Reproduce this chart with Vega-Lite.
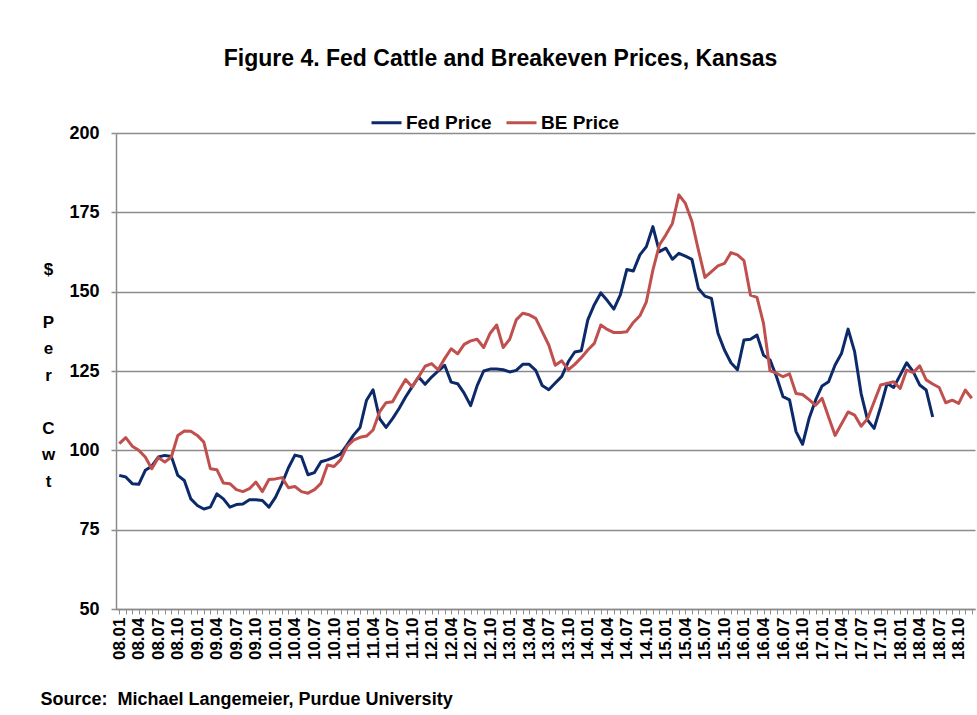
{
  "$schema": "https://vega.github.io/schema/vega-lite/v6.json",
  "width": 859,
  "height": 476,
  "autosize": "none",
  "padding": {"left": 116, "top": 133, "right": 2, "bottom": 106},
  "background": "white",
  "config": {"font": "Liberation Sans", "view": {"stroke": null}},
  "title": {
    "text": "Figure 4. Fed Cattle and Breakeven Prices, Kansas",
    "fontSize": 23,
    "fontWeight": "bold",
    "color": "#000000",
    "anchor": "middle",
    "dx": -45,
    "offset": 17,
    "baseline": "alphabetic"
  },
  "data": {
    "values": [
      {"m":"08.01","fed":92.1,"be":102.1},{"m":"08.02","fed":91.6,"be":104},{"m":"08.03","fed":89.5,"be":101.3},{"m":"08.04","fed":89.3,"be":100},
      {"m":"08.05","fed":93.7,"be":97.9},{"m":"08.06","fed":95,"be":94.2},{"m":"08.07","fed":97.9,"be":97.7},{"m":"08.08","fed":98.4,"be":96.3},
      {"m":"08.09","fed":98.1,"be":97.9},{"m":"08.10","fed":92.1,"be":104.7},{"m":"08.11","fed":90.5,"be":106.1},{"m":"08.12","fed":84.7,"be":106},
      {"m":"09.01","fed":82.6,"be":104.7},{"m":"09.02","fed":81.5,"be":102.6},{"m":"09.03","fed":82.1,"be":94.2},{"m":"09.04","fed":86.3,"be":93.9},
      {"m":"09.05","fed":84.7,"be":89.7},{"m":"09.06","fed":82.1,"be":89.5},{"m":"09.07","fed":82.9,"be":87.6},{"m":"09.08","fed":83.1,"be":87},
      {"m":"09.09","fed":84.4,"be":87.9},{"m":"09.10","fed":84.4,"be":90},{"m":"09.11","fed":84.2,"be":87},{"m":"09.12","fed":82.1,"be":90.8},
      {"m":"10.01","fed":85.2,"be":91},{"m":"10.02","fed":89.5,"be":91.4},{"m":"10.03","fed":94.5,"be":88.2},{"m":"10.04","fed":98.5,"be":88.6},
      {"m":"10.05","fed":98,"be":87},{"m":"10.06","fed":92.3,"be":86.5},{"m":"10.07","fed":93,"be":87.6},{"m":"10.08","fed":96.4,"be":89.6},
      {"m":"10.09","fed":97,"be":95.4},{"m":"10.10","fed":97.8,"be":94.9},{"m":"10.11","fed":98.8,"be":97},{"m":"10.12","fed":101.7,"be":101.2},
      {"m":"11.01","fed":104.8,"be":103.2},{"m":"11.02","fed":107.2,"be":104.1},{"m":"11.03","fed":115.8,"be":104.5},{"m":"11.04","fed":119.1,"be":106.4},
      {"m":"11.05","fed":110,"be":112.1},{"m":"11.06","fed":107.2,"be":115},{"m":"11.07","fed":110,"be":115.3},{"m":"11.08","fed":113.2,"be":118.9},
      {"m":"11.09","fed":116.8,"be":122.3},{"m":"11.10","fed":120,"be":120},{"m":"11.11","fed":123.1,"be":123.1},{"m":"11.12","fed":120.8,"be":126.5},
      {"m":"12.01","fed":123.1,"be":127.3},{"m":"12.02","fed":125,"be":125.4},{"m":"12.03","fed":126.8,"be":128.9},{"m":"12.04","fed":121.5,"be":132},
      {"m":"12.05","fed":121,"be":130.4},{"m":"12.06","fed":118,"be":133.4},{"m":"12.07","fed":114.1,"be":134.5},{"m":"12.08","fed":120.4,"be":135},
      {"m":"12.09","fed":125,"be":132.4},{"m":"12.10","fed":125.6,"be":136.9},{"m":"12.11","fed":125.6,"be":139.5},{"m":"12.12","fed":125.4,"be":132.4},
      {"m":"13.01","fed":124.7,"be":135},{"m":"13.02","fed":125.2,"be":141.1},{"m":"13.03","fed":127.1,"be":143.2},{"m":"13.04","fed":127.1,"be":142.7},
      {"m":"13.05","fed":125.2,"be":141.6},{"m":"13.06","fed":120.4,"be":137.4},{"m":"13.07","fed":119.1,"be":133.2},{"m":"13.08","fed":121.2,"be":126.8},
      {"m":"13.09","fed":123.3,"be":128.2},{"m":"13.10","fed":127.9,"be":125.4},{"m":"13.11","fed":131,"be":127.1},{"m":"13.12","fed":131.4,"be":129.2},
      {"m":"14.01","fed":141.1,"be":131.6},{"m":"14.02","fed":145.9,"be":133.7},{"m":"14.03","fed":149.6,"be":139.5},{"m":"14.04","fed":147.2,"be":138.1},
      {"m":"14.05","fed":144.5,"be":137.1},{"m":"14.06","fed":149,"be":137.1},{"m":"14.07","fed":157,"be":137.4},{"m":"14.08","fed":156.5,"be":140.3},
      {"m":"14.09","fed":161.6,"be":142.4},{"m":"14.10","fed":164.2,"be":146.8},{"m":"14.11","fed":170.5,"be":156.8},{"m":"14.12","fed":162.6,"be":164.7},
      {"m":"15.01","fed":163.7,"be":167.9},{"m":"15.02","fed":160.2,"be":171.5},{"m":"15.03","fed":162.1,"be":180.5},{"m":"15.04","fed":161.2,"be":177.8},
      {"m":"15.05","fed":160.2,"be":172.1},{"m":"15.06","fed":151,"be":163.1},{"m":"15.07","fed":148.6,"be":154.5},{"m":"15.08","fed":147.9,"be":156.3},
      {"m":"15.09","fed":136.9,"be":158.1},{"m":"15.10","fed":131.6,"be":158.9},{"m":"15.11","fed":127.6,"be":162.3},{"m":"15.12","fed":125.4,"be":161.6},
      {"m":"16.01","fed":134.8,"be":159.8},{"m":"16.02","fed":135,"be":148.9},{"m":"16.03","fed":136.3,"be":148.2},{"m":"16.04","fed":130,"be":140},
      {"m":"16.05","fed":128.5,"be":125.1},{"m":"16.06","fed":123.2,"be":124.3},{"m":"16.07","fed":116.9,"be":123.2},{"m":"16.08","fed":115.9,"be":124.1},
      {"m":"16.09","fed":105.9,"be":117.9},{"m":"16.10","fed":101.9,"be":117.6},{"m":"16.11","fed":110,"be":116},{"m":"16.12","fed":115.8,"be":114.2},
      {"m":"17.01","fed":120.3,"be":116.4},{"m":"17.02","fed":121.6,"be":110.5},{"m":"17.03","fed":126.9,"be":104.7},{"m":"17.04","fed":130.6,"be":108.4},
      {"m":"17.05","fed":138.2,"be":112.1},{"m":"17.06","fed":131.1,"be":111.1},{"m":"17.07","fed":117.9,"be":107.6},{"m":"17.08","fed":109.5,"be":110},
      {"m":"17.09","fed":106.9,"be":115.3},{"m":"17.10","fed":113.7,"be":120.6},{"m":"17.11","fed":121.1,"be":121.1},{"m":"17.12","fed":119.8,"be":121.6},
      {"m":"18.01","fed":123.7,"be":119.5},{"m":"18.02","fed":127.6,"be":125.3},{"m":"18.03","fed":124.8,"be":124.5},{"m":"18.04","fed":120.6,"be":126.6},
      {"m":"18.05","fed":119,"be":122.2},{"m":"18.06","fed":110.5,"be":120.9},{"m":"18.07","be":119.8},{"m":"18.08","be":115},
      {"m":"18.09","be":115.8},{"m":"18.10","be":114.8},{"m":"18.11","be":119},{"m":"18.12","be":116.4}
    ]
  },
  "transform": [
    {"fold": ["fed", "be"], "as": ["key", "price"]},
    {"lookup": "key", "from": {"data": {"values": [{"key": "fed", "series": "Fed Price"}, {"key": "be", "series": "BE Price"}]}, "key": "key", "fields": ["series"]}}
  ],
  "mark": {"type": "line", "strokeWidth": 3, "strokeJoin": "round"},
  "encoding": {
    "x": {
      "field": "m",
      "type": "ordinal",
      "sort": null,
      "scale": {"type": "point", "padding": 0.5},
      "axis": {
        "title": "Source:\u00a0 Michael Langemeier, Purdue University",
        "titleFontSize": 18,
        "titleFontWeight": "bold",
        "titleColor": "#000000",
        "titleAnchor": "start",
        "titleAlign": "left",
        "titleBaseline": "alphabetic",
        "titleX": -76,
        "titleY": 95,
        "labelExpr": "indexof(['01','04','07','10'], substring(datum.value, 3, 5)) >= 0 ? datum.value : ''",
        "labelOverlap": false,
        "labelAngle": -90,
        "labelAlign": "right",
        "labelBaseline": "middle",
        "labelFontSize": 17,
        "labelFontWeight": "bold",
        "labelColor": "#000000",
        "labelPadding": 3,
        "domainColor": "#8c8c8c",
        "domainWidth": 1.5,
        "tickColor": "#8c8c8c",
        "tickSize": 5,
        "tickWidth": 1,
        "grid": false
      }
    },
    "y": {
      "field": "price",
      "type": "quantitative",
      "scale": {"domain": [50, 200], "nice": false, "zero": false},
      "axis": {
        "values": [50, 75, 100, 125, 150, 175, 200],
        "title": ["$", "\u200b", "P", "e", "r", "\u200b", "C", "w", "t"],
        "titleAngle": 0,
        "titleFontSize": 17,
        "titleFontWeight": "bold",
        "titleColor": "#000000",
        "titleLineHeight": 26.5,
        "titleAlign": "center",
        "titleBaseline": "middle",
        "titleX": -68,
        "titleY": 136,
        "labelFontSize": 18,
        "labelFontWeight": "bold",
        "labelColor": "#000000",
        "labelPadding": 12,
        "domainColor": "#8c8c8c",
        "domainWidth": 1.5,
        "tickColor": "#8c8c8c",
        "tickSize": 5,
        "tickWidth": 1.5,
        "grid": true,
        "gridColor": "#8c8c8c",
        "gridWidth": 1.5
      }
    },
    "color": {
      "field": "series",
      "type": "nominal",
      "scale": {"domain": ["Fed Price", "BE Price"], "range": ["#0c2a6a", "#c0504d"]},
      "legend": {
        "title": null,
        "orient": "none",
        "direction": "horizontal",
        "legendX": 254,
        "legendY": -27,
        "symbolType": "stroke",
        "symbolStrokeWidth": 3,
        "symbolSize": 900,
        "labelFontSize": 19,
        "labelFontWeight": "bold",
        "labelColor": "#000000",
        "labelOffset": 3,
        "columnPadding": 8
      }
    }
  }
}
